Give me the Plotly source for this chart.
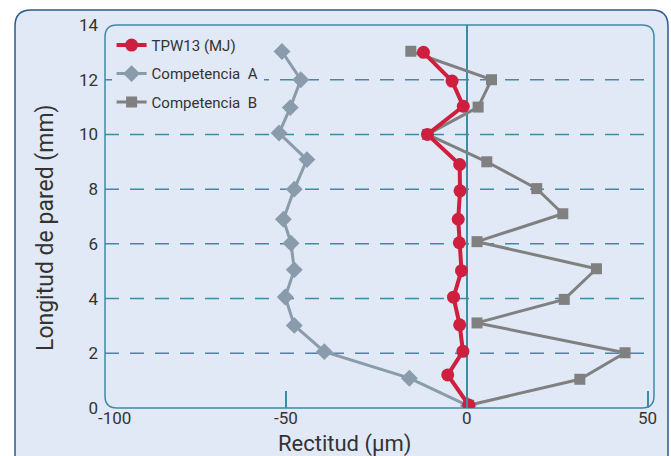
import plotly.graph_objects as go

# ---- data ----
tpw_x = [-12.0, -4.1, -1.0, -10.9, -2.0, -1.9, -2.4, -2.1, -1.5, -3.7, -2.0, -1.1, -5.3, 0.5]
tpw_y = [13.0, 11.95, 11.03, 10.0, 8.9, 7.94, 6.9, 6.04, 5.02, 4.05, 3.04, 2.07, 1.21, 0.11]

compA_x = [-51.1, -45.9, -48.8, -51.9, -44.2, -47.7, -50.7, -48.6, -47.7, -50.2, -47.7, -39.4, -15.9, 0.4]
compA_y = [13.03, 12.0, 10.98, 10.05, 9.08, 8.0, 6.9, 6.02, 5.05, 4.06, 3.02, 2.06, 1.09, 0.08]

compB_x = [-15.5, 6.8, 3.1, -10.9, 5.5, 19.3, 26.5, 2.8, 35.8, 26.9, 2.8, 43.7, 31.2, 0.5]
compB_y = [13.04, 12.0, 11.0, 10.0, 9.0, 8.02, 7.1, 6.08, 5.09, 3.97, 3.11, 2.02, 1.05, 0.1]

x_ticks = [-100, -50, 0, 50]
x_tick_labels = ["-100", "-50", "0", "50"]
y_ticks = [0, 2, 4, 6, 8, 10, 12, 14]
grid_y = [2, 4, 6, 8, 10, 12]

# ---- styling ----
FONT = "Roboto, sans-serif"
TXT = "#333333"
TEAL = "#3f8aa5"
BG = "#e0e9f5"

W, H = 671, 456
L, R, T, B = 105, 17, 25, 48
pw, ph = W - L - R, H - T - B

fig = go.Figure()
fig.add_trace(go.Scatter(
    x=compA_x, y=compA_y, name="Competencia  A", mode="lines+markers",
    line=dict(color="#8a9bab", width=3),
    marker=dict(symbol="diamond", size=13, color="#8a9bab"),
    legendrank=2, legendgroup="a"))
fig.add_trace(go.Scatter(
    x=compB_x, y=compB_y, name="Competencia  B", mode="lines+markers",
    line=dict(color="#808080", width=3),
    marker=dict(symbol="square", size=11, color="#808080"),
    legendrank=3, legendgroup="b"))
fig.add_trace(go.Scatter(
    x=tpw_x, y=tpw_y, name="TPW13 (MJ)", mode="lines+markers",
    line=dict(color="#cf1f3f", width=4),
    marker=dict(symbol="circle", size=13, color="#cf1f3f"),
    legendrank=1, legendgroup="t"))

shapes = []


def rrect(x0, y0, x1, y1, r):
    # pixel coords -> paper coords
    def px(x):
        return (x - L) / pw

    def py(y):
        return (H - B - y) / ph
    rx, ry = r / pw, r / ph
    X0, X1, Y0, Y1 = px(x0), px(x1), py(y0), py(y1)
    return (f"M {X0+rx},{Y0} L {X1-rx},{Y0} Q {X1},{Y0} {X1},{Y0-ry} "
            f"L {X1},{Y1+ry} Q {X1},{Y1} {X1-rx},{Y1} L {X0+rx},{Y1} "
            f"Q {X0},{Y1} {X0},{Y1+ry} L {X0},{Y0-ry} Q {X0},{Y0} {X0+rx},{Y0} Z")


shapes.append(dict(type="path", xref="paper", yref="paper", layer="below",
                   path=rrect(15, 10, 668, 480, 16),
                   fillcolor=BG, line=dict(color="#2e5a8c", width=1.5)))
shapes.append(dict(type="path", xref="paper", yref="paper", layer="below",
                   path=rrect(L, T, W - R, H - B, 12),
                   fillcolor=BG, line=dict(color=TEAL, width=1.5)))
for gy in grid_y:
    shapes.append(dict(type="line", xref="paper", yref="y", x0=0, x1=1, y0=gy, y1=gy,
                       layer="below", line=dict(color=TEAL, width=1.5, dash="14px,11px")))

annotations = [
    dict(text="Rectitud (µm)", xref="paper", yref="paper",
         x=(344 - L) / pw, y=(H - B - 444) / ph, xanchor="center", yanchor="middle",
         showarrow=False, borderpad=0, font=dict(size=22, color=TXT, family=FONT)),
    dict(text="Longitud de pared (mm)", xref="paper", yref="paper",
         x=(45 - L) / pw, y=(H - B - 228) / ph, xanchor="center", yanchor="middle",
         textangle=-90, showarrow=False, font=dict(size=23, color=TXT, family=FONT)),
]
# x tick labels (first one nudged right, as in the original)
for i, (v, t) in enumerate(zip(x_ticks, x_tick_labels)):
    annotations.append(dict(text=t, x=v, xref="x", yref="paper", y=(H - B - 418) / ph,
                            xanchor="center", yanchor="middle", showarrow=False,
                            borderpad=0, xshift=9 if i == 0 else 0,
                            font=dict(size=17, color=TXT, family=FONT)))

fig.update_layout(
    width=W, height=H,
    margin=dict(l=L, r=R, t=T, b=B),
    paper_bgcolor="white", plot_bgcolor="rgba(0,0,0,0)",
    font=dict(family=FONT, color=TXT),
    shapes=shapes,
    showlegend=True,
    legend=dict(x=0.012, y=0.99, xanchor="left", yanchor="top",
                bgcolor=BG, font=dict(size=15, color=TXT, family=FONT),
                tracegroupgap=6, itemwidth=30),
    xaxis=dict(range=[-100, 51.7], tickvals=x_ticks, showticklabels=False,
               showgrid=False, zeroline=True, zerolinecolor=TEAL, zerolinewidth=1.5,
               ticks="inside", ticklen=17, tickcolor=TEAL, tickwidth=1.5,
               showline=False, fixedrange=True),
    yaxis=dict(range=[0, 14], tickvals=y_ticks, showgrid=False, zeroline=False,
               showline=False, ticks="", ticklabelstandoff=6,
               tickfont=dict(size=17, color=TXT), fixedrange=True),
    annotations=annotations,
)

fig.write_html("out.html", config={"displayModeBar": False},
               post_script="document.body.style.margin='0';")
